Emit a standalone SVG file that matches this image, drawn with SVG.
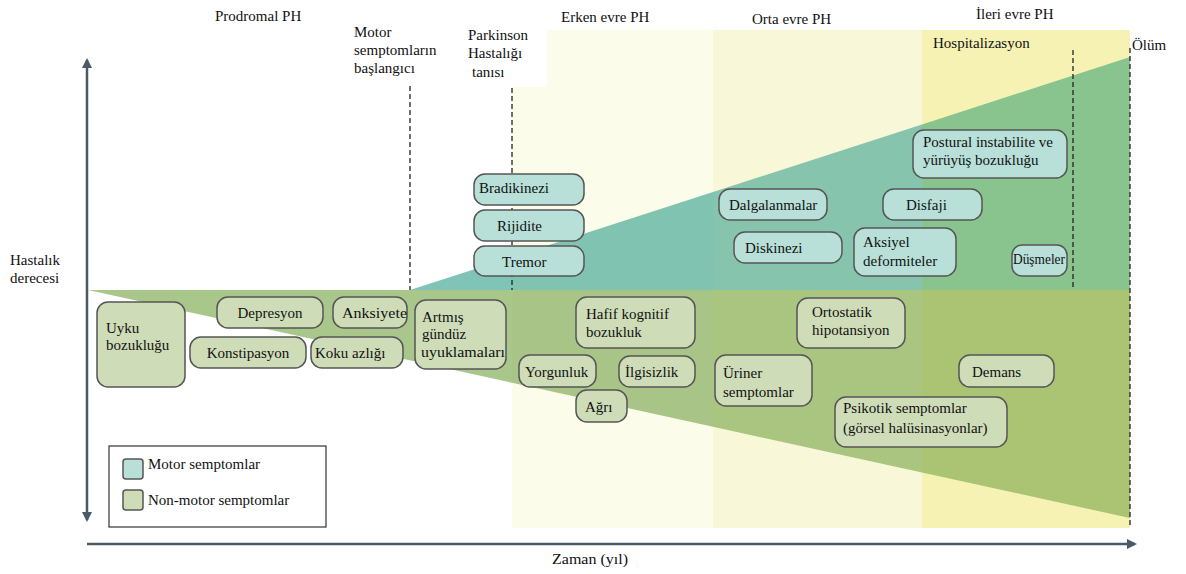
<svg xmlns="http://www.w3.org/2000/svg" width="1186" height="574" viewBox="0 0 1186 574" font-family="'Liberation Serif', 'Times New Roman', serif">
<defs>
<style>
text{font-family:"Liberation Serif","Times New Roman",serif;fill:#111;font-size:15px}
.m rect{fill:#b8e0d8;stroke:#555;stroke-width:1.5}
.n rect{fill:#cfdcb8;stroke:#555;stroke-width:1.5}
.dash{stroke:#222;stroke-width:1.3;stroke-dasharray:5,3;fill:none}
.axis{stroke:#4a5a66;stroke-width:2.5;fill:none}
</style>
<marker id="ah" viewBox="0 0 10 10" refX="8" refY="5" markerWidth="4" markerHeight="4" orient="auto-start-reverse">
<path d="M0,0 L10,5 L0,10 z" fill="#4a5a66"/>
</marker>
</defs>
<rect width="1186" height="574" fill="#fff"/>
<g id="bands">
<rect x="512" y="87" width="201" height="441" fill="#fcfcea"/>
<rect x="547" y="30" width="166" height="58" fill="#fcfcea"/>
<rect x="713" y="30" width="209" height="498" fill="#f8f7d7"/>
<rect x="922" y="30" width="208" height="498" fill="#f5f2b4"/>
</g>
<g id="motor-area">
<polygon points="410,290 512,257 512,290" fill="#80c4b8"/>
<polygon points="512,257 713,192 713,290 512,290" fill="#80c3b1"/>
<polygon points="713,192 922,124.4 922,290 713,290" fill="#86c4ad"/>
<polygon points="922,124.4 1130,57 1130,290 922,290" fill="#89c48f"/>
</g>
<g id="nonmotor-area">
<polygon points="88,290 512,290 512,382.8 88,290" fill="#a9c78b"/>
<polygon points="512,290 713,290 713,426.8 512,382.8" fill="#a8c587"/>
<polygon points="713,290 922,290 922,472.5 713,426.8" fill="#a9c57f"/>
<polygon points="922,290 1130,290 1130,518 922,472.5" fill="#abc473"/>
</g>
<g id="connectors">
<line class="dash" x1="410" y1="86" x2="410" y2="290"/>
<line class="dash" x1="512" y1="88" x2="512" y2="290"/>
<line class="dash" x1="1073" y1="50" x2="1073" y2="290"/>
<line class="dash" x1="1130" y1="48" x2="1130" y2="528"/>
<line class="axis" x1="87" y1="60" x2="87" y2="520" marker-start="url(#ah)" marker-end="url(#ah)"/>
<line class="axis" x1="87" y1="544" x2="1135" y2="544" marker-end="url(#ah)"/>
</g>
<g id="labels">
<text x="215" y="21">Prodromal PH</text>
<text x="354" y="37">Motor</text>
<text x="354" y="55">semptomların</text>
<text x="354" y="73">başlangıcı</text>
<text x="468" y="40">Parkinson</text>
<text x="468" y="58">Hastalığı</text>
<text x="472" y="77">tanısı</text>
<text x="561" y="22">Erken evre PH</text>
<text x="752" y="24">Orta evre PH</text>
<text x="976" y="19">İleri evre PH</text>
<text x="933" y="48">Hospitalizasyon</text>
<text x="1132" y="50">Ölüm</text>
<text x="10" y="265">Hastalık</text>
<text x="10" y="283">derecesi</text>
<text x="552" y="564" font-size="14" textLength="76" lengthAdjust="spacingAndGlyphs">Zaman (yıl)</text>
</g>
<g id="uyku" class="n"><rect x="97" y="302" width="88" height="85" rx="11"/><text x="106" y="333">Uyku</text><text x="106" y="350">bozukluğu</text></g>
<g id="depresyon" class="n"><rect x="217" y="297" width="106" height="31" rx="11"/><text x="270" y="318" text-anchor="middle">Depresyon</text></g>
<g id="anksiyete" class="n"><rect x="333" y="297" width="74" height="31" rx="11"/><text x="342" y="318" textLength="65" lengthAdjust="spacingAndGlyphs">Anksiyete</text></g>
<g id="konstipasyon" class="n"><rect x="190" y="337" width="116" height="31" rx="11"/><text x="248" y="358" text-anchor="middle">Konstipasyon</text></g>
<g id="koku" class="n"><rect x="311" y="337" width="92" height="31" rx="11"/><text x="315" y="358">Koku azlığı</text></g>
<g id="artmis" class="n"><rect x="415" y="300" width="91" height="69" rx="11"/><text x="422" y="322">Artmış</text><text x="422" y="339">gündüz</text><text x="421" y="357" textLength="84" lengthAdjust="spacingAndGlyphs">uyuklamaları</text></g>
<g id="hafif" class="n"><rect x="576" y="297" width="119" height="51" rx="11"/><text x="586" y="319">Hafif kognitif</text><text x="586" y="337">bozukluk</text></g>
<g id="yorgunluk" class="n"><rect x="519" y="355" width="77" height="32" rx="11"/><text x="525" y="377">Yorgunluk</text></g>
<g id="ilgisizlik" class="n"><rect x="619" y="356" width="76" height="31" rx="11"/><text x="625" y="377">İlgisizlik</text></g>
<g id="agri" class="n"><rect x="576" y="390" width="51" height="32" rx="11"/><text x="585" y="412">Ağrı</text></g>
<g id="bradikinezi" class="m"><rect x="474" y="174" width="110" height="31" rx="11"/><text x="479" y="193">Bradikinezi</text></g>
<g id="rijidite" class="m"><rect x="474" y="210" width="110" height="31" rx="11"/><text x="497" y="231">Rijidite</text></g>
<g id="tremor" class="m"><rect x="474" y="246" width="110" height="30" rx="11"/><text x="502" y="267">Tremor</text></g>
<g id="dalgalanmalar" class="m"><rect x="719" y="189" width="108" height="31" rx="11"/><text x="729" y="210">Dalgalanmalar</text></g>
<g id="diskinezi" class="m"><rect x="734" y="232" width="108" height="31" rx="11"/><text x="745" y="253">Diskinezi</text></g>
<g id="disfaji" class="m"><rect x="883" y="189" width="99" height="31" rx="11"/><text x="906" y="210">Disfaji</text></g>
<g id="postural" class="m"><rect x="913" y="130" width="154" height="48" rx="11"/><text x="923" y="147">Postural instabilite ve</text><text x="923" y="165">yürüyüş bozukluğu</text></g>
<g id="aksiyel" class="m"><rect x="854" y="228" width="102" height="48" rx="11"/><text x="863" y="247">Aksiyel</text><text x="863" y="266">deformiteler</text></g>
<g id="dusmeler" class="m"><rect x="1012" y="245" width="55" height="31" rx="10"/><text x="1013" y="264" font-size="11" textLength="52" lengthAdjust="spacingAndGlyphs">Düşmeler</text></g>
<g id="ortostatik" class="n"><rect x="797" y="298" width="108" height="50" rx="11"/><text x="812" y="317">Ortostatik</text><text x="812" y="335">hipotansiyon</text></g>
<g id="uriner" class="n"><rect x="715" y="355" width="97" height="51" rx="11"/><text x="723" y="378">Üriner</text><text x="723" y="397">semptomlar</text></g>
<g id="demans" class="n"><rect x="959" y="355" width="95" height="32" rx="11"/><text x="972" y="377">Demans</text></g>
<g id="psikotik" class="n"><rect x="835" y="397" width="172" height="50" rx="11"/><text x="843" y="413">Psikotik semptomlar</text><text x="843" y="433">(görsel halüsinasyonlar)</text></g>
<g id="legend">
<rect x="109" y="446" width="217" height="81" fill="#fff" stroke="#333" stroke-width="1.2"/>
<rect x="123" y="459" width="20" height="20" rx="3" fill="#b8e0d8" stroke="#555" stroke-width="1.5"/>
<rect x="123" y="490" width="20" height="20" rx="3" fill="#cfdcb8" stroke="#555" stroke-width="1.5"/>
<text x="148" y="469">Motor semptomlar</text>
<text x="148" y="505">Non-motor semptomlar</text>
</g>
</svg>
